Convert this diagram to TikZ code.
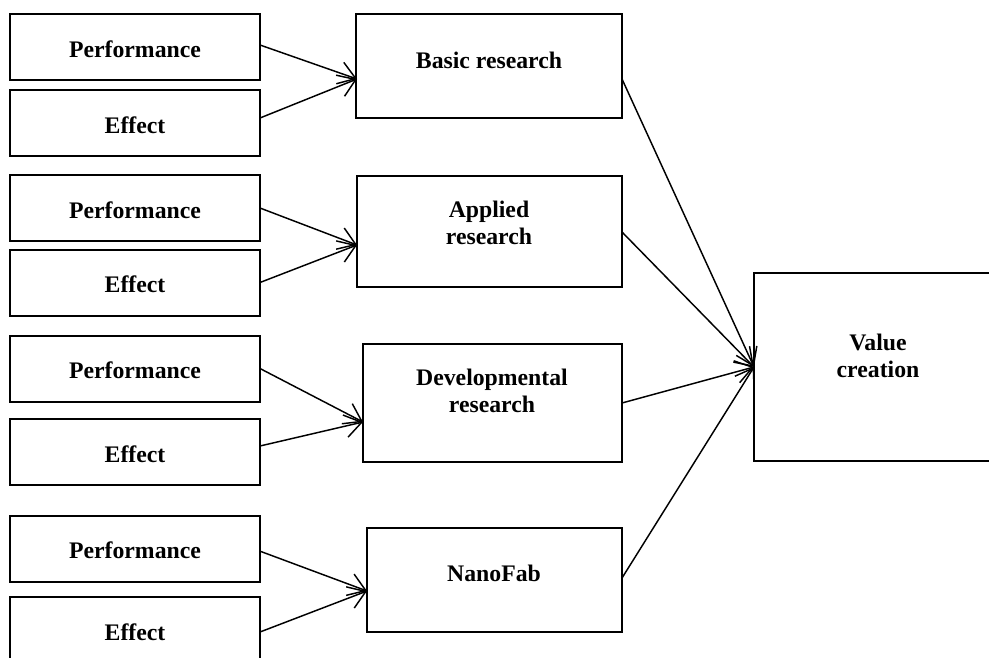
\documentclass[tikz,border=0pt]{standalone}
\usepackage{fontspec}
\setmainfont{Liberation Serif}
\usetikzlibrary{arrows.meta}
\begin{document}
\begin{tikzpicture}[x=0.75pt, y=-0.75pt,
  box/.style={draw=black, line width=1.5pt, fill=white, inner sep=0pt, outer sep=0pt},
  leftbox/.style={box, minimum width=187.5pt, minimum height=49.5pt},
  lbl/.style={inner sep=0pt, align=center, font=\fontsize{17.8}{20.5}\selectfont\bfseries},
  arr/.style={line width=1.1pt, -{Straight Barb[length=12.5pt, width=17pt, line width=1.1pt]}}]
\clip (0,0) rectangle (989,657);

% left column: inputs
\node[leftbox] (p1) at (135,47) {};
\node[leftbox] (e1) at (135,123) {};
\node[leftbox] (p2) at (135,208) {};
\node[leftbox] (e2) at (135,282.5) {};
\node[leftbox] (p3) at (135,368.5) {};
\node[leftbox] (e3) at (135,452) {};
\node[leftbox] (p4) at (135,548.5) {};
\node[leftbox, minimum height=52.5pt] (e4) at (135,632) {};

\node[lbl] (p1t) at (135,49) {Performance};
\node[lbl] (e1t) at (135,125) {Effect};
\node[lbl] (p2t) at (135,210) {Performance};
\node[lbl] (e2t) at (135,284) {Effect};
\node[lbl] (p3t) at (135,370) {Performance};
\node[lbl] (e3t) at (135,454) {Effect};
\node[lbl] (p4t) at (135,550) {Performance};
\node[lbl] (e4t) at (135,632) {Effect};

% middle column: research types
\node[box, minimum width=199.5pt, minimum height=78pt] (basic) at (489,66) {};
\node[box, minimum width=198.75pt, minimum height=83.25pt] (applied) at (489.5,231.5) {};
\node[box, minimum width=194.25pt, minimum height=88.5pt] (dev) at (492.5,403) {};
\node[box, minimum width=191.25pt, minimum height=78pt] (nano) at (494.5,580) {};

\node[lbl] (basict) at (489,60) {Basic research};
\node[lbl] (appliedt) at (489,223) {Applied\\research};
\node[lbl] (devt) at (492,391) {Developmental\\research};
\node[lbl] (nanot) at (494,573) {NanoFab};

% right: outcome
\node[box, minimum width=192pt, minimum height=141pt] (value) at (882,367) {};
\node[lbl] (valuet) at (878,356) {Value\\creation};

% arrow tips on the middle boxes
\coordinate (t1) at (357,79);
\coordinate (t2) at (357,245);
\coordinate (t3) at (363,422);
\coordinate (t4) at (367,591);

\draw[arr] ([yshift=1.5pt]p1.east) -- (t1);
\draw[arr] ([yshift=3.75pt]e1.east) -- (t1);
\draw[arr] (p2.east) -- (t2);
\draw[arr] (e2.east) -- (t2);
\draw[arr] (p3.east) -- (t3);
\draw[arr] ([yshift=4.5pt]e3.east) -- (t3);
\draw[arr] ([yshift=-2pt]p4.east) -- (t4);
\draw[arr] (e4.east) -- (t4);

% links into value creation
\coordinate (b1) at (622,79);
\coordinate (b2) at (622,232);
\coordinate (b3) at (622,403);
\coordinate (b4) at (622,578);
\draw[arr] (b1) -- (value.west);
\draw[arr] (b2) -- (value.west);
\draw[arr] (b3) -- (value.west);
\draw[arr] (b4) -- (value.west);
\end{tikzpicture}
\end{document}
